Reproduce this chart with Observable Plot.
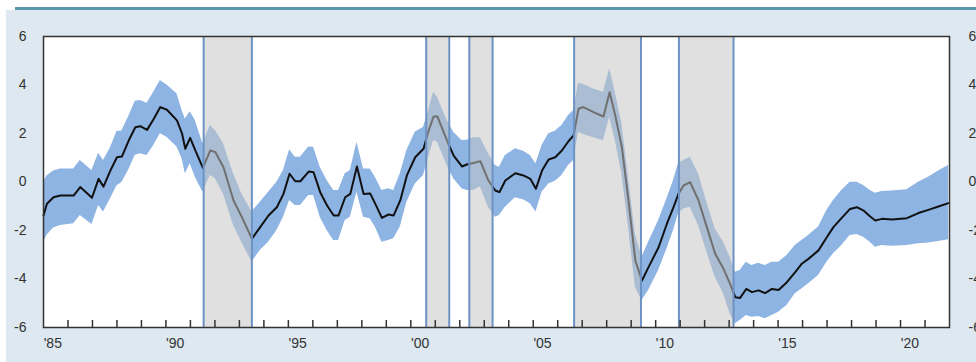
<!DOCTYPE html>
<html><head><meta charset="utf-8">
<script src="https://cdn.jsdelivr.net/npm/d3@7"></script>
<script src="https://cdn.jsdelivr.net/npm/@observablehq/plot@0.6"></script>
<style>
html,body{margin:0;padding:0;background:#fff;width:976px;height:362px;overflow:hidden}
#panel{position:absolute;left:6px;top:10px;width:970px;height:352px;background:#dde8f0}
#rule{position:absolute;left:15px;top:7px;width:961px;height:3px;background:#5b98ab}
#chart{position:absolute;left:0;top:0}
</style></head><body>
<div id="panel"></div><div id="rule"></div><div id="chart"></div>
<script>
// time (decimal year)
const years = [
 1985.0,1985.14,1985.41,1985.69,1986.23,1986.5,1986.98,1987.25,1987.45,1987.73,1988.0,1988.2,1988.48,1988.75,1988.95,1989.23,1989.5,1989.77,1990.04,1990.45,1990.66,1990.79,1990.99,1991.2,
 1991.51,1991.81,1992.02,1992.35,1992.76,1993.1,1993.51,1993.85,1994.19,1994.53,1994.8,1995.05,1995.28,1995.49,1995.83,1996.03,1996.3,1996.58,1996.85,1997.05,
 1997.32,1997.53,1997.8,1998.07,1998.34,1998.55,1998.82,1999.09,1999.3,1999.57,1999.84,2000.18,2000.52,2000.73,2000.93,2001.09,2001.48,2001.75,2002.09,2002.29,2002.56,2002.84,2003.17,2003.45,
 2003.62,2003.86,2004.27,2004.6,2004.88,2005.11,2005.36,2005.63,2005.9,2006.17,2006.44,2006.65,2006.85,2007.05,2007.46,2007.87,2008.12,2008.35,2008.62,2008.89,2009.17,2009.44,
 2009.71,2010.12,2010.46,2010.73,2010.93,2011.14,2011.41,2011.75,2012.09,2012.43,2012.77,2013.04,2013.25,2013.45,2013.7,2013.93,2014.2,2014.47,2014.75,2015.02,2015.36,2015.7,
 2015.97,2016.24,2016.65,2016.99,2017.26,2017.6,2017.94,2018.22,2018.49,2018.76,2018.97,2019.24,2019.65,2020.26,2020.73,2021.14,2021.55,2021.96
];
// central estimate (black line)
const gap = [
 -1.38,-0.90,-0.63,-0.56,-0.56,-0.21,-0.65,0.13,-0.19,0.47,1.02,1.05,1.71,2.26,2.30,2.15,2.60,3.09,2.98,2.54,1.99,1.37,1.82,1.30,
 0.58,1.30,1.23,0.61,-0.76,-1.45,-2.34,-1.86,-1.38,-1.04,-0.49,0.34,0.03,0.03,0.43,0.40,-0.42,-0.97,-1.38,-1.38,
 -0.63,-0.49,0.64,-0.49,-0.47,-0.90,-1.48,-1.34,-1.38,-0.76,0.27,1.02,1.37,2.12,2.70,2.70,1.71,1.09,0.64,0.72,0.78,0.86,0.06,-0.35,
 -0.42,0.06,0.36,0.27,0.13,-0.28,0.47,0.93,1.02,1.30,1.68,1.92,3.02,3.09,2.88,2.70,3.70,2.74,1.44,-0.76,-3.24,-4.06,
 -3.51,-2.69,-1.72,-1.04,-0.49,-0.14,-0.01,-0.76,-1.86,-2.96,-3.58,-4.20,-4.75,-4.78,-4.41,-4.54,-4.47,-4.58,-4.41,-4.45,-4.13,-3.72,
 -3.37,-3.17,-2.82,-2.28,-1.86,-1.48,-1.11,-1.04,-1.18,-1.42,-1.59,-1.52,-1.55,-1.49,-1.28,-1.15,-1.01,-0.87
];
// band upper edge
const upper = [
 0.0,0.25,0.45,0.54,0.54,0.89,0.47,1.19,0.89,1.4,2.08,2.1,2.7,3.33,3.36,3.25,3.70,4.19,4.0,3.64,2.95,2.6,2.9,2.54,
 1.58,2.33,2.12,1.58,0.34,-0.49,-1.24,-0.83,-0.42,-0.01,0.47,1.33,1.02,1.02,1.44,1.43,0.61,0.06,-0.35,-0.35,
 0.34,0.47,1.64,0.54,0.54,0.2,-0.35,-0.28,-0.35,0.34,1.3,2.05,2.26,2.95,3.7,3.5,2.54,2.05,1.71,1.72,1.82,1.82,1.16,0.68,
 0.61,1.09,1.37,1.27,1.09,0.75,1.51,1.99,2.09,2.33,2.74,2.95,4.07,4.02,3.84,3.70,4.67,3.70,2.40,0.2,-2.14,-3.10,
 -2.48,-1.59,-0.69,0.06,0.75,0.89,1.02,0.34,-0.83,-1.93,-2.48,-3.10,-3.72,-3.65,-3.31,-3.44,-3.35,-3.44,-3.31,-3.31,-3.03,-2.62,
 -2.41,-2.21,-1.86,-1.18,-0.76,-0.35,-0.01,-0.01,-0.14,-0.35,-0.46,-0.39,-0.37,-0.32,-0.01,0.2,0.45,0.68
];
// band lower edge
const lower = [
 -2.48,-2.2,-1.9,-1.79,-1.72,-1.38,-1.75,-0.97,-1.24,-0.7,-0.15,-0.02,0.5,1.1,1.16,1.09,1.51,1.99,1.85,1.44,0.96,0.34,0.75,0.2,
 -0.42,0.27,0.13,-0.49,-1.79,-2.48,-3.31,-2.82,-2.48,-2.0,-1.45,-0.76,-0.97,-0.97,-0.56,-0.56,-1.45,-2.0,-2.41,-2.41,
 -1.59,-1.45,-0.42,-1.45,-1.52,-1.86,-2.48,-2.41,-2.34,-1.86,-0.83,-0.08,0.27,1.02,1.71,1.64,0.68,0.13,-0.28,-0.35,-0.35,-0.21,-1.04,-1.45,
 -1.38,-1.04,-0.65,-0.73,-0.90,-1.24,-0.42,-0.08,0.03,0.27,0.68,0.89,2.05,1.96,1.82,1.71,2.67,1.71,0.34,-1.86,-4.34,-4.89,
 -4.47,-3.65,-2.76,-2.0,-1.31,-1.11,-1.04,-1.79,-2.89,-3.93,-4.61,-5.44,-5.85,-5.71,-5.51,-5.58,-5.55,-5.64,-5.51,-5.37,-5.09,-4.61,
 -4.41,-4.20,-3.86,-3.31,-2.96,-2.62,-2.21,-2.17,-2.28,-2.48,-2.69,-2.62,-2.65,-2.62,-2.55,-2.52,-2.45,-2.38
];
// shaded periods
const recStart = [1991.54, 2000.63, 2002.39, 2006.67, 2010.95];
const recEnd   = [1993.51, 2001.57, 2003.34, 2009.40, 2013.18];
// axis ticks & labels
const yTicks = [-6, -4, -2, 0, 2, 4, 6];
const xLabelYears = [1985, 1990, 1995, 2000, 2005, 2010, 2015, 2020];
const xTickYears = [1986,1987,1988,1989,1990,1991,1992,1993,1994,1995,1996,1997,1998,1999,2000,2001,2002,2003,2004,2005,2006,2007,2008,2009,2010,2011,2012,2013,2014,2015,2016,2017,2018,2019,2020,2021];

const rows = years.map((t, i) => ({t, v: gap[i], lo: lower[i], hi: upper[i]}));
const recs = recStart.map((s, i) => ({start: s, end: recEnd[i]}));

const chart = Plot.plot({
  width: 976, height: 362,
  marginLeft: 43, marginRight: 27, marginTop: 36, marginBottom: 35,
  x: {domain: [1985, 2022], axis: null},
  y: {domain: [-6, 6]},
  style: {background: "transparent", fontSize: "14px", fontFamily: "'Liberation Sans', Arial, sans-serif", color: "#333"},
  marks: [
    Plot.frame({fill: "#ffffff", stroke: "none"}),
    Plot.areaY(rows, {x: "t", y1: "lo", y2: "hi", fill: "#8db4e2"}),
    Plot.lineY(rows, {x: "t", y: "v", stroke: "#111", strokeWidth: 2}),
    Plot.rect(recs, {x1: "start", x2: "end", fill: "#c4c4c4", fillOpacity: 0.53}),
    Plot.ruleX([...recStart, ...recEnd], {stroke: "#6d92c4", strokeWidth: 2}),
    Plot.tickX(xTickYears, {x: d => d, insetTop: 284, stroke: "#333", strokeWidth: 1.5}),
    Plot.frame({stroke: "#333", strokeWidth: 1.5}),
    Plot.axisY({ticks: yTicks, anchor: "left", tickSize: 0, tickPadding: 17, label: null, fill: "#333", tickFormat: d => String(d)}),
    Plot.axisY({ticks: yTicks, anchor: "right", tickSize: 0, tickPadding: 19, label: null, fill: "#333", tickFormat: d => String(d)}),
    Plot.text(xLabelYears, {x: d => d + 0.38, frameAnchor: "bottom", dy: 20, text: d => "'" + String(d).slice(2), fill: "#333", fontSize: 14})
  ]
});
document.getElementById("chart").appendChild(chart);
</script></body></html>
